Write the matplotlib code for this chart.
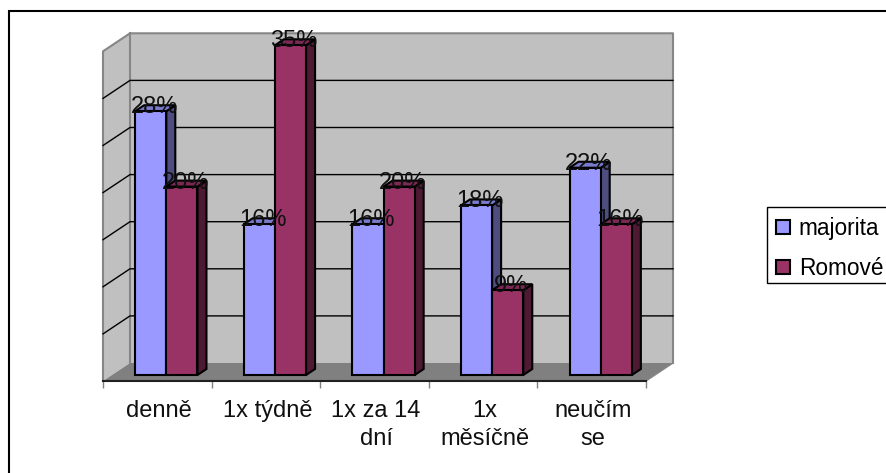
import matplotlib
matplotlib.use('Agg')
import matplotlib.pyplot as plt
from matplotlib.patches import Polygon, Patch, Rectangle

plt.rcParams['font.family'] = ['Liberation Sans', 'DejaVu Sans']

categories = ['denně', '1x týdně', '1x za 14\ndní', '1x\nměsíčně', 'neučím\nse']
majorita = [0.28, 0.16, 0.16, 0.18, 0.22]
romove = [0.20, 0.35, 0.20, 0.09, 0.16]
grid_values = [0.05, 0.10, 0.15, 0.20, 0.25, 0.30]

W, H = 886, 473
X0, X1, Y0 = 103, 646, 381   # front floor corners in pixels
PX_X = (X1 - X0) / 5         # pixels per category
PX_Y = 942                   # pixels per 1.0 of value
DX, DY = 27 / PX_X, 18 / PX_Y  # floor depth in data units
YMAX = 0.35
BAR_W = 0.287
FONT = 16.3
LABEL_FONT = 17


def depth(x, y, t):
    # point x,y pushed back by t of the floor depth
    return (x + t * DX, y + t * DY)


def poly(ax, pts, color, ec='none', lw=0, z=1):
    ax.add_patch(Polygon(pts, closed=True, facecolor=color, edgecolor=ec, linewidth=lw,
                         zorder=z, clip_on=False, joinstyle='miter'))


def bar3d(ax, x, val, cols, z):
    t0, t1 = 1 / 3, 2 / 3
    base = 0
    front = [depth(x, base, t0), depth(x + BAR_W, base, t0), depth(x + BAR_W, val, t0), depth(x, val, t0)]
    side = [depth(x + BAR_W, base, t0), depth(x + BAR_W, base, t1), depth(x + BAR_W, val, t1), depth(x + BAR_W, val, t0)]
    top = [depth(x, val, t0), depth(x + BAR_W, val, t0), depth(x + BAR_W, val, t1), depth(x, val, t1)]
    poly(ax, side, cols[2], 'black', 1.5, z)
    poly(ax, top, cols[1], 'black', 1.5, z)
    poly(ax, front, cols[0], 'black', 1.5, z)


fig = plt.figure(figsize=(W / 100, H / 100), dpi=100)
ax = fig.add_axes([X0 / W, (H - Y0) / H, (X1 - X0) / W, 0.5])
ax.set_xlim(0, 5)
ax.set_ylim(0, 0.5 * H / PX_Y)

# walls and floor
poly(ax, [depth(0, 0, 0), depth(0, 0, 1), depth(0, YMAX, 1), depth(0, YMAX, 0)], '#c0c0c0')
poly(ax, [depth(0, 0, 1), depth(5, 0, 1), depth(5, YMAX, 1), depth(0, YMAX, 1)], '#c0c0c0')
poly(ax, [depth(0, 0, 0), depth(5, 0, 0), depth(5, 0, 1), depth(0, 0, 1)], '#808080')

wall = '#868686'
for pts in ([depth(0, 0, 0), depth(0, YMAX, 0), depth(0, YMAX, 1), depth(5, YMAX, 1), depth(5, 0, 1)],
            [depth(0, 0, 1), depth(0, YMAX, 1)]):
    ax.plot(*zip(*pts), color=wall, lw=1.5, zorder=2, clip_on=False)

for v in grid_values:
    pts = [depth(0, v, 0), depth(0, v, 1), depth(5, v, 1)]
    ax.plot(*zip(*pts), color='black', lw=1, zorder=2, clip_on=False)
ax.plot(*zip(depth(5, 0, 0), depth(5, 0, 1)), color=wall, lw=1, zorder=2, clip_on=False)

colors_a = ('#9999ff', '#7a7acc', '#4d4d80')
colors_b = ('#993366', '#7a2952', '#4d1933')
for i in range(len(categories)):
    x = i + 0.5 - BAR_W
    bar3d(ax, x, majorita[i], colors_a, 3 + i)
    bar3d(ax, x + BAR_W, romove[i], colors_b, 3 + i + 0.5)
    for xx, val in ((x, majorita[i]), (x + BAR_W, romove[i])):
        # labels sit on the top face of the bar
        tx, ty = depth(xx + BAR_W / 2, val, 0.5)
        ax.text(tx - 1 / PX_X, ty + 1 / PX_Y, f'{round(val * 100)}%', ha='center', va='center',
                fontsize=LABEL_FONT, color='#101010', zorder=20)

ax.spines[['left', 'right', 'top']].set_visible(False)
ax.spines['bottom'].set_color('#202020')
ax.spines['bottom'].set_linewidth(1.5)
ax.set_yticks([])
ax.set_xticks(range(6))
ax.tick_params(axis='x', length=5, width=1, color='#808080', labelbottom=False)
for i, c in enumerate(categories):
    ax.annotate(c, (i + 0.5, 0), xytext=(1.5, -19), textcoords='offset pixels', ha='center', va='top',
                fontsize=LABEL_FONT, linespacing=1.33, annotation_clip=False, color='#101010')

ax.patch.set_visible(False)

# outer frame, runs off the right and bottom of the picture
fig.add_artist(Rectangle((8.5 / W, -20 / H), (W + 40) / W, (H + 8.5) / H, transform=fig.transFigure,
                         facecolor='none', edgecolor='black', lw=1.5, zorder=0))

# legend box drawn apart so its height can be set
fig.add_artist(Rectangle((767 / W, (H - 283) / H), (W - 767 + 20) / W, 76 / H, transform=fig.transFigure,
                         facecolor='white', edgecolor='black', lw=1, zorder=1))
handles = [Patch(facecolor='#9999ff', edgecolor='black', lw=1.5, label='majorita'),
           Patch(facecolor='#993366', edgecolor='black', lw=1.5, label='Romové')]
leg = fig.legend(handles=handles, loc='upper left', bbox_to_anchor=(766.5 / W, (H - 208) / H), borderaxespad=0,
                 frameon=False, fontsize=FONT, handlelength=0.62,
                 handleheight=0.62, handletextpad=0.4, labelspacing=0.75, borderpad=0.4)
leg.set_zorder(2)

fig.savefig('out.png', dpi=100)
